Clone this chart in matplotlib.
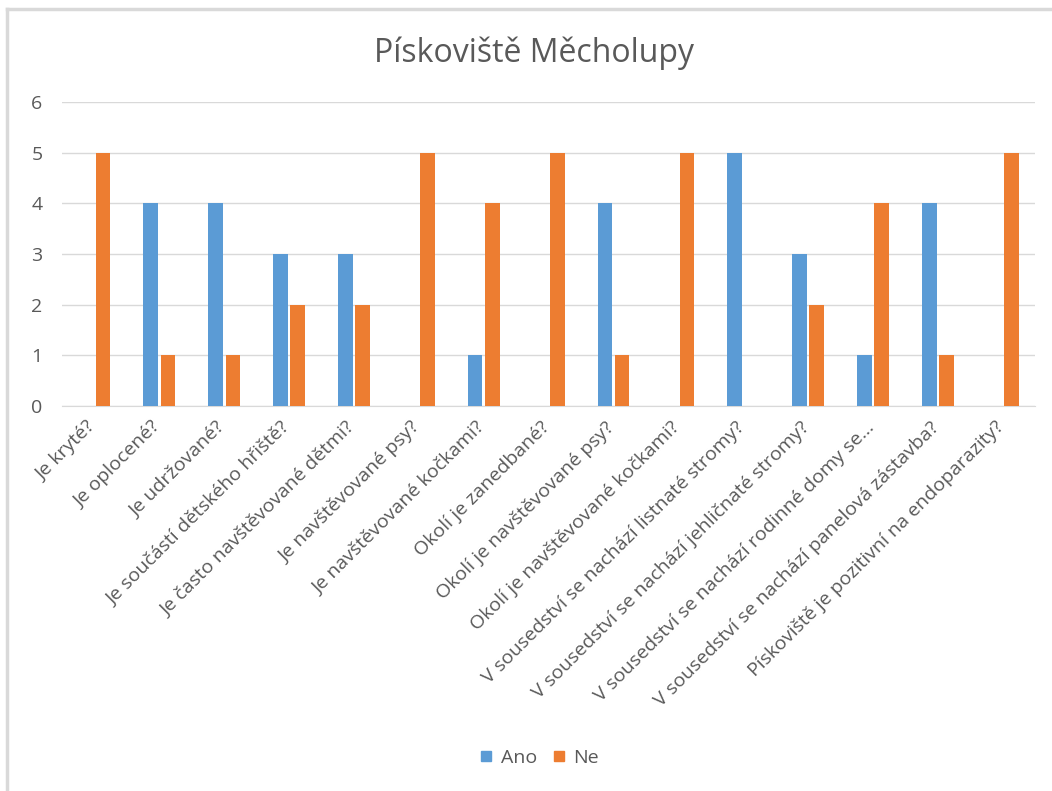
import numpy as np
import matplotlib.pyplot as plt
import matplotlib.transforms as mtransforms
from matplotlib.lines import Line2D

plt.rcParams['font.family'] = ['Open Sans', 'DejaVu Sans']

# answers for each question
questions = [
    'Je kryté?',
    'Je oplocené?',
    'Je udržované?',
    'Je součástí dětského hřiště?',
    'Je často navštěvované dětmi?',
    'Je navštěvované psy?',
    'Je navštěvované kočkami?',
    'Okolí je zanedbané?',
    'Okolí je navštěvované psy?',
    'Okolí je navštěvované kočkami?',
    'V sousedství se nachází listnaté stromy?',
    'V sousedství se nachází jehličnaté stromy?',
    'V sousedství se nachází rodinné domy se…',
    'V sousedství se nachází panelová zástavba?',
    'Pískoviště je pozitivní na endoparazity?',
]
ano = [0, 4, 4, 3, 3, 0, 1, 0, 4, 0, 5, 3, 1, 4, 0]
ne = [5, 1, 1, 2, 2, 5, 4, 5, 1, 5, 0, 2, 4, 1, 5]

blue = '#5B9BD5'
orange = '#ED7D31'
text_col = '#595959'
grid_col = '#D9D9D9'

fig = plt.figure(figsize=(10.52, 7.91), dpi=100)
ax = fig.add_axes([0.059, 0.487, 0.925, 0.384])

x = np.arange(len(questions))
w = 0.225
ax.bar(x - w / 2 - 0.02, ano, width=w, color=blue, label='Ano', zorder=3)
ax.bar(x + w / 2 + 0.02, ne, width=w, color=orange, label='Ne', zorder=3)

ax.set_xlim(-0.5, len(questions) - 0.5)
ax.set_ylim(0, 6)
ax.set_yticks(range(7))
ax.yaxis.grid(True, color=grid_col, linewidth=1, zorder=0)
for s in ['top', 'right', 'left']:
    ax.spines[s].set_visible(False)
ax.spines['bottom'].set_color(grid_col)
ax.tick_params(axis='both', length=0, colors=text_col, labelsize=14)
ax.tick_params(axis='y', pad=14)
ax.tick_params(axis='x', pad=9)
ax.set_xticks(x)
ax.set_xticklabels(questions, rotation=45, ha='right', rotation_mode='anchor')

# nudge the slanted labels a little to the left
shift = mtransforms.ScaledTranslation(-6 / 72, 0, fig.dpi_scale_trans)
for lbl in ax.get_xticklabels():
    lbl.set_transform(lbl.get_transform() + shift)

fig.text(0.508, 0.933, 'Pískoviště Měcholupy', ha='center', va='center',
         fontsize=23, color=text_col)

handles = [Line2D([], [], marker='s', linestyle='', markersize=7.5, color=blue),
           Line2D([], [], marker='s', linestyle='', markersize=7.5, color=orange)]
fig.legend(handles, ['Ano', 'Ne'], loc='center', bbox_to_anchor=(0.512, 0.042),
           ncol=2, frameon=False, fontsize=14, labelcolor=text_col,
           handlelength=0.8, handletextpad=0.35, columnspacing=0.7)

# chart frame edges
fig.add_artist(Line2D([0.007, 0.007], [0, 0.989], color='#D9D9D9', linewidth=2.5,
                      transform=fig.transFigure))
fig.add_artist(Line2D([0.007, 1], [0.989, 0.989], color='#D9D9D9', linewidth=2.5,
                      transform=fig.transFigure))

fig.savefig('out.png', dpi=100)
